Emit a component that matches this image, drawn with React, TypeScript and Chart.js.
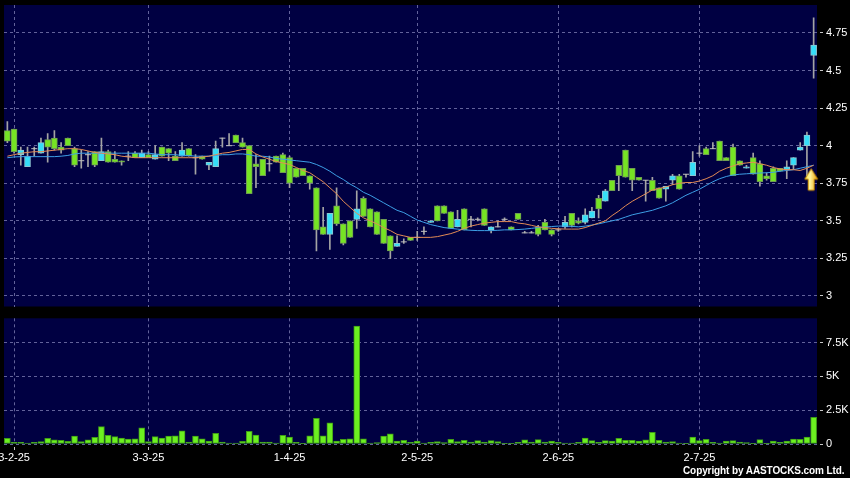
import { useEffect, useRef } from "react";
import { Chart, registerables } from "chart.js";

Chart.register(...registerables);

// ---- data ----
const opens = [
  4.10, 4.11, 3.94, 3.86, 3.98, 3.95, 4.04, 4.05, 3.99, 4.05,
  3.98, 3.90, 3.94, 3.96, 3.90, 3.96, 3.91, 3.90, 3.93, 3.95,
  3.92, 3.94, 3.91, 3.99, 3.98, 3.93, 3.93, 3.98, 3.92, 3.93,
  3.87, 3.86, 4.05, 4.00, 4.07, 4.02, 4.00, 3.88, 3.91, 3.88,
  3.93, 3.94, 3.92, 3.85, 3.85, 3.80, 3.72, 3.46, 3.41, 3.60,
  3.48, 3.50, 3.51, 3.65, 3.58, 3.56, 3.51, 3.40, 3.33, 3.36,
  3.39, 3.39, 3.43, 3.49, 3.60, 3.60, 3.56, 3.46, 3.58, 3.51,
  3.51, 3.58, 3.44, 3.46, 3.51, 3.46, 3.55, 3.42, 3.42, 3.46,
  3.49, 3.44, 3.44, 3.46, 3.55, 3.50, 3.49, 3.52, 3.65, 3.63,
  3.77, 3.87, 3.97, 3.85, 3.79, 3.77, 3.77, 3.72, 3.71, 3.77,
  3.80, 3.81, 3.80, 3.95, 3.98, 3.98, 4.03, 3.92, 3.99, 3.90,
  3.85, 3.92, 3.88, 3.80, 3.85, 3.85, 3.84, 3.87, 3.97, 4.00,
  4.60,
];
const highs = [
  4.16, 4.11, 3.99, 3.99, 3.99, 4.05, 4.08, 4.10, 4.02, 4.05,
  3.99, 3.97, 3.96, 3.96, 4.05, 3.97, 3.96, 3.90, 3.96, 3.96,
  3.97, 3.96, 4.00, 3.99, 3.98, 3.96, 4.02, 3.98, 3.94, 3.93,
  3.89, 4.03, 4.05, 4.08, 4.07, 4.05, 4.00, 3.94, 3.91, 3.93,
  3.93, 3.95, 3.93, 3.85, 3.85, 3.80, 3.72, 3.59, 3.55, 3.72,
  3.48, 3.50, 3.70, 3.66, 3.58, 3.56, 3.51, 3.40, 3.40, 3.38,
  3.39, 3.43, 3.46, 3.50, 3.60, 3.60, 3.56, 3.57, 3.58, 3.53,
  3.52, 3.58, 3.46, 3.50, 3.52, 3.46, 3.55, 3.43, 3.43, 3.47,
  3.51, 3.44, 3.45, 3.53, 3.55, 3.52, 3.58, 3.59, 3.67, 3.71,
  3.77, 3.87, 3.97, 3.85, 3.79, 3.77, 3.79, 3.72, 3.73, 3.81,
  3.81, 3.81, 3.96, 4.00, 3.99, 4.02, 4.03, 3.92, 4.01, 3.90,
  3.87, 3.95, 3.90, 3.82, 3.86, 3.85, 3.90, 3.92, 4.02, 4.09,
  4.85,
];
const lows = [
  4.02, 3.95, 3.87, 3.86, 3.93, 3.95, 3.89, 3.97, 3.95, 4.00,
  3.86, 3.85, 3.86, 3.86, 3.90, 3.89, 3.89, 3.87, 3.90, 3.92,
  3.92, 3.92, 3.91, 3.93, 3.90, 3.90, 3.93, 3.93, 3.81, 3.91,
  3.84, 3.86, 3.99, 4.00, 4.02, 3.99, 3.68, 3.72, 3.80, 3.83,
  3.89, 3.82, 3.72, 3.79, 3.80, 3.71, 3.30, 3.41, 3.31, 3.47,
  3.34, 3.39, 3.45, 3.53, 3.46, 3.41, 3.35, 3.25, 3.33, 3.35,
  3.37, 3.37, 3.41, 3.49, 3.50, 3.55, 3.45, 3.46, 3.44, 3.46,
  3.50, 3.47, 3.42, 3.46, 3.50, 3.44, 3.51, 3.42, 3.42, 3.40,
  3.44, 3.40, 3.43, 3.45, 3.46, 3.48, 3.48, 3.52, 3.52, 3.63,
  3.70, 3.70, 3.79, 3.70, 3.77, 3.63, 3.70, 3.65, 3.63, 3.74,
  3.71, 3.79, 3.80, 3.93, 3.94, 3.98, 3.90, 3.90, 3.80, 3.87,
  3.85, 3.81, 3.73, 3.77, 3.76, 3.83, 3.78, 3.84, 3.97, 3.80,
  4.45,
];
const closes = [
  4.03, 3.96, 3.97, 3.93, 3.98, 4.02, 3.99, 3.98, 3.97, 4.00,
  3.87, 3.90, 3.94, 3.87, 3.96, 3.89, 3.89, 3.89, 3.93, 3.92,
  3.95, 3.92, 3.94, 3.93, 3.95, 3.90, 3.97, 3.93, 3.92, 3.91,
  3.89, 3.98, 4.05, 4.00, 4.02, 3.99, 3.68, 3.86, 3.80, 3.88,
  3.89, 3.82, 3.75, 3.79, 3.80, 3.75, 3.44, 3.41, 3.55, 3.48,
  3.35, 3.39, 3.58, 3.53, 3.46, 3.41, 3.35, 3.30, 3.35, 3.36,
  3.37, 3.39, 3.43, 3.50, 3.50, 3.55, 3.45, 3.51, 3.44, 3.51,
  3.51, 3.47, 3.46, 3.46, 3.51, 3.44, 3.51, 3.42, 3.42, 3.41,
  3.44, 3.41, 3.44, 3.49, 3.47, 3.485, 3.54, 3.565, 3.58, 3.70,
  3.70, 3.80, 3.79, 3.77, 3.77, 3.77, 3.70, 3.65, 3.73, 3.80,
  3.71, 3.81, 3.89, 3.95, 3.94, 3.98, 3.90, 3.90, 3.80, 3.87,
  3.86, 3.81, 3.76, 3.78, 3.76, 3.83, 3.86, 3.92, 3.99, 4.07,
  4.67,
];
const volumes = [
  420, 120, 120, 70, 120, 170, 420, 300, 270, 200,
  590, 170, 300, 490, 1280, 640, 540, 440, 370, 390,
  1200, 170, 540, 440, 590, 610, 980, 150, 590, 390,
  220, 790, 150, 70, 70, 200, 930, 660, 150, 150,
  70, 640, 520, 120, 50, 610, 1890, 610, 1570, 220,
  340, 390, 8730, 390, 70, 100, 590, 760, 220, 270,
  120, 220, 70, 120, 170, 100, 340, 170, 270, 150,
  250, 150, 250, 170, 50, 50, 120, 300, 150, 320,
  150, 220, 120, 70, 70, 120, 440, 250, 120, 250,
  220, 420, 270, 270, 220, 300, 860, 270, 150, 170,
  70, 50, 520, 250, 340, 120, 70, 220, 250, 150,
  100, 50, 320, 50, 220, 120, 220, 370, 340, 520,
  1970,
];
const maShort = [
  3.93, 3.94, 3.95, 3.955, 3.96, 3.96, 3.965, 3.97, 3.975, 3.98,
  3.98, 3.975, 3.965, 3.955, 3.95, 3.945, 3.94, 3.93, 3.925, 3.92,
  3.92, 3.92, 3.92, 3.92, 3.92, 3.92, 3.92, 3.92, 3.92, 3.925,
  3.93, 3.94, 3.95, 3.955, 3.965, 3.975, 3.975, 3.945, 3.925, 3.91,
  3.895, 3.885, 3.875, 3.855, 3.835, 3.82, 3.79, 3.76, 3.72, 3.68,
  3.63, 3.59, 3.55, 3.52, 3.50, 3.48, 3.455, 3.435, 3.41, 3.40,
  3.39, 3.39, 3.39, 3.39, 3.395, 3.405, 3.415, 3.43, 3.45, 3.465,
  3.475, 3.485, 3.49, 3.495, 3.495, 3.495, 3.485, 3.48, 3.47, 3.46,
  3.455, 3.45, 3.447, 3.445, 3.445, 3.445, 3.455, 3.47, 3.485, 3.50,
  3.535, 3.565, 3.60, 3.63, 3.655, 3.68, 3.705, 3.715, 3.725, 3.74,
  3.75, 3.755, 3.755, 3.765, 3.78, 3.80, 3.83, 3.85, 3.865, 3.88,
  3.885, 3.89, 3.88, 3.87, 3.855, 3.845, 3.84, 3.84, 3.835, 3.85,
  3.87,
];
const maLong = [
  3.92, 3.925, 3.927, 3.927, 3.927, 3.927, 3.927, 3.927, 3.93, 3.935,
  3.945, 3.95, 3.95, 3.95, 3.95, 3.95, 3.95, 3.95, 3.95, 3.95,
  3.95, 3.95, 3.945, 3.94, 3.94, 3.94, 3.935, 3.935, 3.93, 3.93,
  3.93, 3.935, 3.94, 3.94, 3.945, 3.945, 3.94, 3.93, 3.93, 3.925,
  3.915, 3.91, 3.905, 3.90, 3.895, 3.89, 3.875, 3.855, 3.83, 3.80,
  3.775, 3.745, 3.72, 3.69, 3.67, 3.645, 3.62, 3.595, 3.57, 3.555,
  3.53, 3.505, 3.49, 3.475, 3.465, 3.455, 3.45, 3.445, 3.44, 3.437,
  3.435, 3.435, 3.435, 3.437, 3.44, 3.44, 3.442, 3.445, 3.45, 3.455,
  3.458, 3.462, 3.465, 3.465, 3.463, 3.46, 3.465, 3.472, 3.48, 3.49,
  3.50, 3.51, 3.525, 3.54, 3.55, 3.56, 3.57, 3.585, 3.60, 3.62,
  3.645, 3.67, 3.69, 3.71, 3.735, 3.76, 3.78, 3.795, 3.805, 3.81,
  3.813, 3.816, 3.818, 3.82, 3.823, 3.83, 3.835, 3.84, 3.85, 3.86,
  3.87,
];
const tickLabels = ["3-2-25", "3-3-25", "1-4-25", "2-5-25", "2-6-25", "2-7-25"];
const tickIndex = [1, 21, 42, 61, 82, 103];
const priceTicks = [3, 3.25, 3.5, 3.75, 4, 4.25, 4.5, 4.75];
const volumeTicks = [0, 2500, 5000, 7500];
const arrowIndex = 120;
const arrowLevel = 3.77;

// ---- styles ----
const NAVY = "#000042";
const GRID = "#62629a";
const FONT = "'Liberation Sans', Arial, sans-serif";
const UP = "#35def8";
const UP_BORDER = "#8cc6d2";
const DOWN = "#76e424";
const DOWN_BORDER = "#6f9c52";

const categories = opens.map((_, i) => {
  const k = tickIndex.indexOf(i);
  return k < 0 ? "" : tickLabels[k];
});

const panelBg = {
  id: "panelBg",
  beforeDraw(chart: any) {
    const { ctx, chartArea } = chart;
    ctx.save();
    ctx.fillStyle = NAVY;
    ctx.fillRect(chartArea.left, chartArea.top, chartArea.right - chartArea.left, chartArea.bottom - chartArea.top);
    ctx.restore();
  },
};

function xAxis(showLabels: boolean) {
  return {
    type: "category",
    offset: true,
    afterBuildTicks: (s: any) => {
      s.ticks = tickIndex.map((v) => ({ value: v }));
    },
    grid: {
      display: true,
      drawOnChartArea: true,
      offset: false,
      color: GRID,
      lineWidth: 1,
      drawTicks: showLabels,
      tickLength: 6,
      tickColor: "#c8c8c8",
      tickBorderDash: [0, 3, 3, 3],
    },
    border: { display: false, dash: [3, 3] },
    ticks: {
      display: showLabels,
      autoSkip: false,
      maxRotation: 0,
      color: "#ffffff",
      font: { size: 11, family: FONT },
      padding: 1,
    },
    afterFit: (s: any) => {
      s.height = showLabels ? 34 : 0;
      s.paddingLeft = 0;
      s.paddingRight = 0;
    },
  };
}

function yAxis(min: number, max: number, ticks: number[], fmt: (v: number) => string) {
  return {
    position: "right",
    min,
    max,
    afterBuildTicks: (s: any) => {
      s.ticks = ticks.map((v) => ({ value: v }));
    },
    grid: {
      color: GRID,
      drawTicks: true,
      tickLength: 6,
      tickColor: "#c8c8c8",
      tickBorderDash: [0, 3, 3, 3],
    },
    border: { display: false, dash: [3, 3] },
    ticks: {
      color: "#ffffff",
      font: { size: 11, family: FONT },
      padding: 3,
      callback: (v: any) => fmt(Number(v)),
    },
    afterFit: (s: any) => {
      s.width = 33;
      s.paddingTop = 0;
      s.paddingBottom = 0;
    },
  };
}

function makeArrow() {
  const c = document.createElement("canvas");
  c.width = 20;
  c.height = 26;
  const g = c.getContext("2d")!;
  const grad = g.createLinearGradient(1, 0, 14, 0);
  grad.addColorStop(0, "#ffe640");
  grad.addColorStop(0.4, "#fff6a0");
  grad.addColorStop(1, "#eaa000");
  g.beginPath();
  g.moveTo(7.5, 1.5);
  g.lineTo(14, 12);
  g.lineTo(10.5, 12);
  g.lineTo(10.5, 23);
  g.lineTo(4.5, 23);
  g.lineTo(4.5, 12);
  g.lineTo(1, 12);
  g.closePath();
  g.fillStyle = grad;
  g.fill();
  g.strokeStyle = "#c98a00";
  g.lineWidth = 1;
  g.stroke();
  return c;
}

export default function App() {
  const topRef = useRef<HTMLCanvasElement>(null);
  const volRef = useRef<HTMLCanvasElement>(null);

  useEffect(() => {
    const arrow = makeArrow();
    const bodyData = opens.map((o, i) => (o === closes[i] ? null : [o, closes[i]]));
    const bodyColors = opens.map((o, i) => (closes[i] > o ? UP : DOWN));
    const bodyBorders = opens.map((o, i) => (closes[i] > o ? UP_BORDER : DOWN_BORDER));
    const wickData = lows.map((l, i) => [l, highs[i]]);
    const dojiData = opens.map((o, i) => (o === closes[i] ? o : null));
    const arrowData = opens.map((_, i) => (i === arrowIndex ? arrowLevel : null));

    const top = new Chart(topRef.current!, {
      type: "bar",
      data: {
        labels: categories,
        datasets: [
          { type: "line", data: arrowData as any, showLine: false, pointStyle: arrow as any, pointRadius: 10, order: 0 },
          { type: "line", data: maShort, borderColor: "#e38b55", borderWidth: 1, pointRadius: 0, order: 1 },
          { type: "line", data: maLong, borderColor: "#3d9fe6", borderWidth: 1, pointRadius: 0, order: 1 },
          {
            type: "line",
            data: dojiData as any,
            showLine: false,
            pointStyle: "line",
            pointRadius: 3,
            pointBorderColor: "#bdbdbd",
            pointBorderWidth: 1,
            order: 2,
          },
          {
            type: "bar",
            data: bodyData as any,
            backgroundColor: bodyColors,
            borderColor: bodyBorders,
            borderWidth: 1,
            borderSkipped: false,
            barThickness: 6,
            grouped: false,
            order: 3,
          },
          {
            type: "bar",
            data: wickData as any,
            backgroundColor: "#a4a4a4",
            barThickness: 1,
            grouped: false,
            order: 4,
          },
        ] as any,
      },
      options: {
        animation: false,
        responsive: false,
        devicePixelRatio: 1,
        events: [],
        layout: { autoPadding: false, padding: { left: 4, top: 5, right: 0, bottom: 5.5 } },
        plugins: { legend: { display: false }, tooltip: { enabled: false } },
        scales: {
          x: xAxis(false) as any,
          y: yAxis(2.93, 4.936, priceTicks, (v) => String(v)) as any,
        },
      },
      plugins: [panelBg],
    });

    const vol = new Chart(volRef.current!, {
      type: "bar",
      data: {
        labels: categories,
        datasets: [
          {
            data: volumes,
            backgroundColor: "#6cf020",
            borderColor: "#3f9c16",
            borderWidth: 1,
            borderSkipped: false,
            barThickness: 6,
          },
        ],
      },
      options: {
        animation: false,
        responsive: false,
        devicePixelRatio: 1,
        events: [],
        layout: { autoPadding: false, padding: { left: 4, top: 6.3, right: 0, bottom: 0 } },
        plugins: { legend: { display: false }, tooltip: { enabled: false } },
        scales: {
          x: xAxis(true) as any,
          y: yAxis(0, 9300, volumeTicks, (v) => (v === 0 ? "0" : `${v / 1000}K`)) as any,
        },
      },
      plugins: [panelBg],
    });

    return () => {
      top.destroy();
      vol.destroy();
    };
  }, []);

  return (
    <div
      style={{
        position: "absolute",
        left: 0,
        top: 0,
        width: 850,
        height: 478,
        background: "#000000",
        overflow: "hidden",
      }}
    >
      <canvas ref={topRef} width={850} height={312} style={{ position: "absolute", left: 0, top: 0 }} />
      <canvas ref={volRef} width={850} height={166} style={{ position: "absolute", left: 0, top: 312 }} />
      <div
        style={{
          position: "absolute",
          left: 683,
          top: 465,
          color: "#ffffff",
          fontFamily: FONT,
          fontWeight: "bold",
          fontSize: 10,
          lineHeight: "12px",
          letterSpacing: "-0.1px",
          whiteSpace: "nowrap",
        }}
      >
        Copyright by AASTOCKS.com Ltd.
      </div>
    </div>
  );
}
